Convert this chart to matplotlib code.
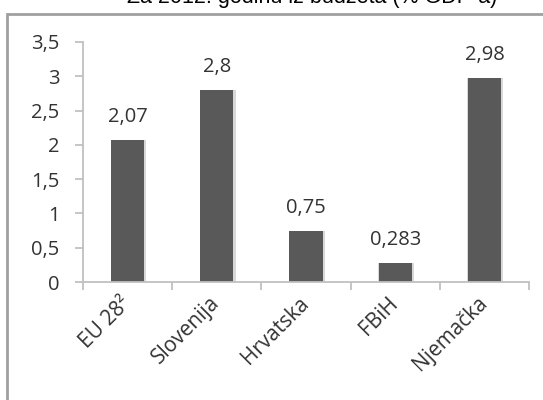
import matplotlib.pyplot as plt
from matplotlib.patches import Rectangle
import numpy as np

plt.rcParams['font.family'] = ['Open Sans', 'DejaVu Sans']

# data
categories = ['EU 28²', 'Slovenija', 'Hrvatska', 'FBiH', 'Njemačka']
values = [2.07, 2.8, 0.75, 0.283, 2.98]
value_labels = ['2,07', '2,8', '0,75', '0,283', '2,98']
yticks = [0, 0.5, 1, 1.5, 2, 2.5, 3, 3.5]
ytick_labels = ['0', '0,5', '1', '1,5', '2', '2,5', '3', '3,5']

txt_col = '#333333'
axis_col = '#c0c0c0'

fig = plt.figure(figsize=(5.43, 4.0), dpi=100)
ax = fig.add_axes([83/543, 1 - 282/400, 446/543, 240/400])

# outer frame (cut by the image edges)
fig.patches.append(Rectangle((7/543, -0.1), 1.2, 1 - 14/400 + 0.1, transform=fig.transFigure,
                             fill=False, edgecolor='#a0a0a0', linewidth=2, zorder=0))
fig.text(312/543, 1 - 3/400, 'Za 2012. godinu iz budžeta (% GDP-a)', ha='center', va='baseline',
         fontsize=15.5, family='Liberation Sans', color='black')

x = np.arange(len(categories))
# soft shadow then bar
ax.bar(x + 0.01, values, width=0.40, color='#d8d8d8', zorder=1)
ax.bar(x, values, width=0.37, color='#595959', zorder=2)
for xi, v, lab in zip(x, values, value_labels):
    ax.text(xi, v + 0.26, lab, ha='center', va='baseline', fontsize=14.5, color=txt_col)

ax.set_xlim(-0.5, len(categories) - 0.5)
ax.set_ylim(0, 3.5)
ax.set_yticks(yticks)
ax.set_yticklabels(ytick_labels, fontsize=14.5, color=txt_col)
ax.set_xticks(x)
ax.set_xticklabels(categories, rotation=45, ha='right', va='center', rotation_mode='anchor',
                   fontsize=15, color=txt_col)
ax.tick_params(axis='x', length=0, pad=13)
ax.set_xticks(np.arange(-0.5, len(categories)), minor=True)
ax.tick_params(axis='x', which='minor', length=6, width=1.3, color=axis_col)
ax.tick_params(axis='y', length=6, width=1.3, color=axis_col, pad=11)

for s in ['top', 'right']:
    ax.spines[s].set_visible(False)
for s in ['left', 'bottom']:
    ax.spines[s].set_color(axis_col)
    ax.spines[s].set_linewidth(1.3)

fig.savefig('out.png', dpi=100)
